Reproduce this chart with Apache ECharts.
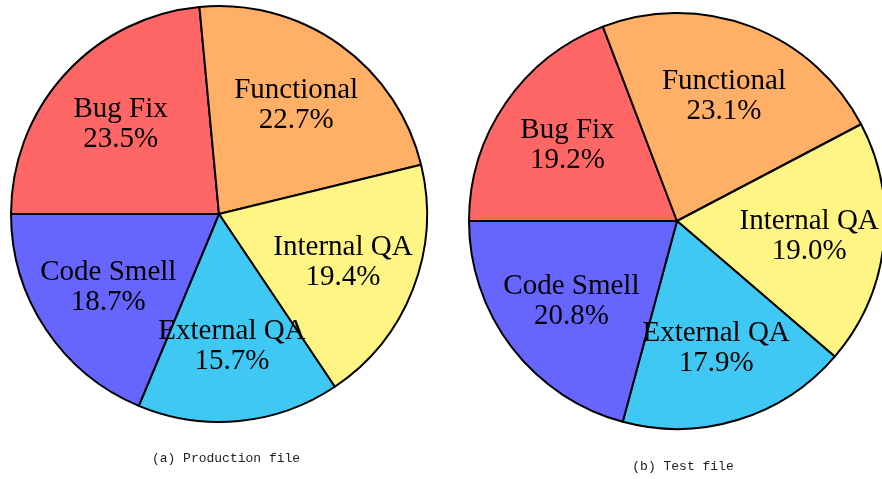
<!DOCTYPE html>
<html>
<head>
<meta charset="utf-8">
<script src="https://cdn.jsdelivr.net/npm/echarts@6/dist/echarts.min.js"></script>
<style>
  html, body { margin: 0; padding: 0; background: #fff; }
  #main { width: 882px; height: 479px; }
</style>
</head>
<body>
<div id="main"></div>
<script>
// categories in drawing order (clockwise from 9 o'clock)
var categories = ['Bug Fix', 'Functional', 'Internal QA', 'External QA', 'Code Smell'];
var productionShare = [23.5, 22.7, 19.4, 15.7, 18.7];
var testShare = [19.2, 23.1, 19.0, 17.9, 20.8];
var captions = ['(a) Production file', '(b) Test file'];

var sliceColors = ['#ff6666', '#ffb066', '#fff585', '#40c8f4', '#6666ff'];

var myChart = echarts.init(document.getElementById('main'));

function toData(vals) {
    return categories.map(function(name, i) {
        return { name: name, value: vals[i], itemStyle: { color: sliceColors[i] } };
    });
}

function pieSeries(vals, center) {
    return [{
        // slices
        type: 'pie',
        center: center,
        radius: 208,
        startAngle: 180,
        clockwise: true,
        silent: true,
        label: { show: false },
        labelLine: { show: false },
        itemStyle: { borderColor: '#000', borderWidth: 2 },
        data: toData(vals)
    }, {
        // labels only, ring used to push them out to ~0.63 r
        type: 'pie',
        center: center,
        radius: [52, 208],
        startAngle: 180,
        clockwise: true,
        silent: true,
        avoidLabelOverlap: false,
        z: 5,
        itemStyle: { color: 'rgba(0,0,0,0)', borderWidth: 0 },
        label: {
            show: true,
            position: 'inside',
            overflow: 'none',
            formatter: function(p) { return p.name + '\n' + p.value.toFixed(1) + '%'; },
            fontFamily: 'Liberation Serif',
            fontSize: 29,
            lineHeight: 30,
            color: '#000'
        },
        labelLine: { show: false },
        labelLayout: { hideOverlap: false },
        data: categories.map(function(name, i) { return { name: name, value: vals[i] }; })
    }];
}

var option = {
    animation: false,
    backgroundColor: '#fff',
    series: pieSeries(productionShare, [219, 214]).concat(pieSeries(testShare, [677, 221])),
    graphic: [{
        type: 'text',
        x: 226, y: 459,
        style: { text: captions[0], font: '13px "Liberation Mono"', fill: '#222', textAlign: 'center', textVerticalAlign: 'middle' }
    }, {
        type: 'text',
        x: 683, y: 467,
        style: { text: captions[1], font: '13px "Liberation Mono"', fill: '#222', textAlign: 'center', textVerticalAlign: 'middle' }
    }]
};
myChart.setOption(option);
</script>
</body>
</html>
